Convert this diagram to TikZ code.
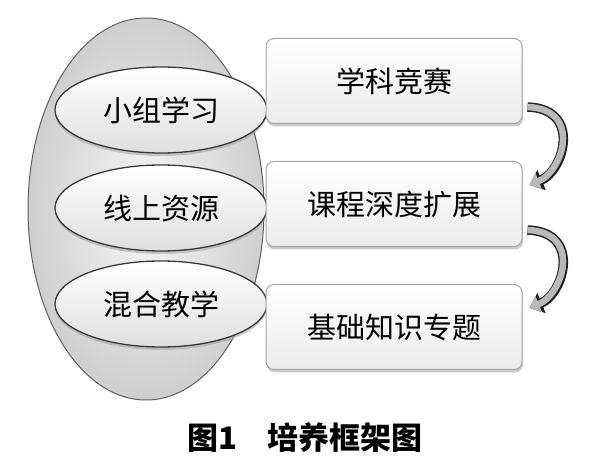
\documentclass[tikz,border=0pt]{standalone}
\usepackage{fontspec}
\setmainfont{Noto Sans CJK SC}
\usetikzlibrary{shapes.geometric,shadows,arrows.meta}
\begin{document}
\begin{tikzpicture}[x=1pt,y=-1pt,
  bigell/.style={ellipse, draw=gray!75!black, line width=1pt, minimum width=236pt, minimum height=382pt, inner sep=0pt, inner color=gray!6, outer color=gray!38},
  smallell/.style={ellipse, draw=gray!45!black, line width=1.3pt, minimum width=212pt, minimum height=86pt, inner sep=0pt, top color=white, bottom color=gray!25,
    drop shadow={shadow xshift=0pt, shadow yshift=-3pt, fill=gray!70, opacity=0.6}, font=\fontsize{29pt}{32pt}\selectfont},
  boxnode/.style={rectangle, rounded corners=8pt, draw=gray!70, line width=1pt, minimum width=256pt, minimum height=85pt, inner sep=0pt, top color=white, bottom color=gray!15,
    drop shadow={shadow xshift=1pt, shadow yshift=-3pt, fill=gray!70, opacity=0.6}, font=\fontsize{29pt}{32pt}\selectfont},
  flow/.style={line width=6.5pt, draw=gray!55, -{Triangle[width=16pt,length=10pt]},
    preaction={draw=gray!25!black, line width=9.5pt, -{Triangle[width=21pt,length=13pt]}}},
  captext/.style={font=\fontsize{31pt}{34pt}\selectfont\bfseries}
]
\fill[white] (0,0) rectangle (600,470);
\useasboundingbox (0,0) rectangle (600,470);

\node[bigell] (big) at (146,209) {};
\node[smallell] (e1) at (161,110) {小组学习};
\node[smallell] (e2) at (161,208) {线上资源};
\node[smallell] (e3) at (161,304) {混合教学};

\node[boxnode] (b1) at (394,81) {学科竞赛};
\node[boxnode] (b2) at (394,204) {课程深度扩展};
\node[boxnode] (b3) at (394,327) {基础知识专题};

\coordinate (s1) at ([shift={(5pt,17pt)}]b1.south east);
\coordinate (t1) at ([shift={(7pt,-24pt)}]b2.north east);
\coordinate (s2) at ([shift={(5pt,17pt)}]b2.south east);
\coordinate (t2) at ([shift={(7pt,-24pt)}]b3.north east);
\draw[flow] (s1) .. controls +(55pt,-2pt) and +(34pt,14pt) .. (t1);
\draw[flow] (s2) .. controls +(55pt,-2pt) and +(34pt,14pt) .. (t2);

\node[captext] (caption) at (305,438) {图1\hspace{1em}培养框架图};
\end{tikzpicture}
\end{document}
